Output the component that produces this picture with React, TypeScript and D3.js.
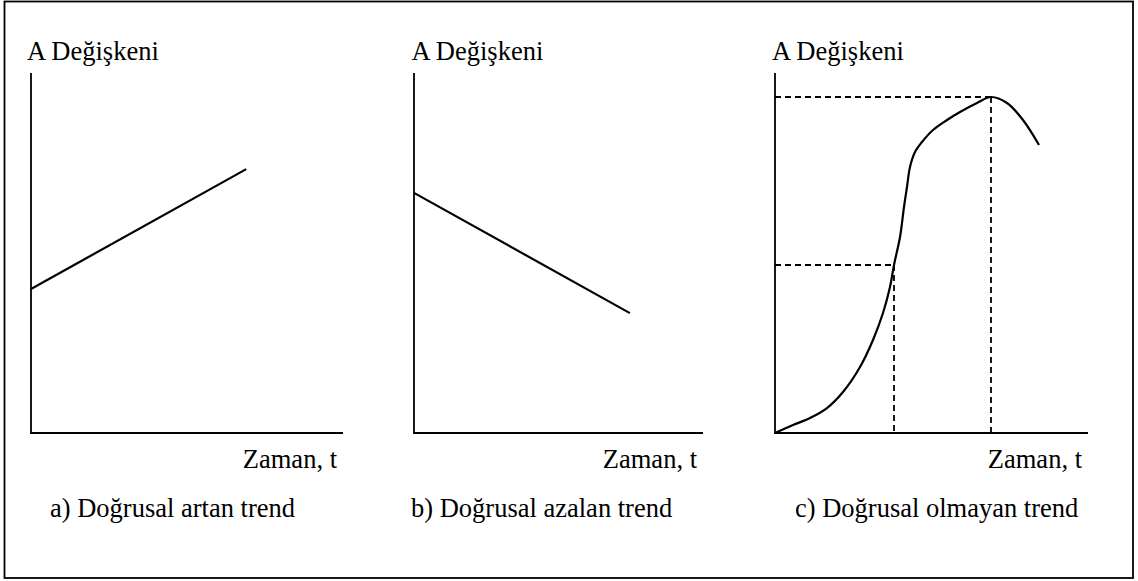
import React from "react";
import * as d3 from "d3";

// ---- data (domain units 0..100 on both axes of every panel) ----
const yAxisLabel = "A Değişkeni";
const xAxisLabel = "Zaman, t";
const captions = ["a) Doğrusal artan trend", "b) Doğrusal azalan trend", "c) Doğrusal olmayan trend"];

const increasingTrend: [number, number][] = [[0, 40], [69, 73.3]];
const decreasingTrend: [number, number][] = [[0, 66.7], [74.7, 33.3]];
const nonlinearTrend: [number, number][] = [
  [0, 0], [5.75, 2.22], [11.18, 4.17], [16.61, 6.94], [21.73, 11.39], [27.16, 18.33],
  [31.31, 25.83], [34.5, 33.33], [36.74, 40.56], [38.02, 46.67], [39.94, 54.44],
  [41.21, 62.78], [42.17, 68.33], [43.13, 73.89], [44.73, 78.06], [46.96, 80.83],
  [50.48, 84.17], [54.95, 86.94], [59.11, 89.17], [64.54, 91.67], [69.01, 93.33],
  [74.12, 91.67], [79.23, 86.94], [84.35, 80],
];
const inflectionPoint: [number, number] = [38.02, 46.67];
const peakPoint: [number, number] = [69.01, 93.33];

const W = 1138;
const H = 581;
const FONT = "'Times New Roman', 'Liberation Serif', serif";

const panels = [
  { x0: 31, x1: 343, labelX: 27, zamanX: 337, capX: 50, data: increasingTrend, dashed: false },
  { x0: 414, x1: 703, labelX: 411.5, zamanX: 697, capX: 411, data: decreasingTrend, dashed: false },
  { x0: 775, x1: 1088, labelX: 772, zamanX: 1082, capX: 795, data: nonlinearTrend, dashed: true },
];

const yTop = 73;
const yBottom = 433;

export default function App() {
  return (
    <div style={{ position: "absolute", left: 0, top: 0 }}>
      <svg width={W} height={H} style={{ display: "block", background: "#fff" }}>
        <rect x={4.5} y={1.5} width={1128.5} height={576.5} fill="none" stroke="#000" strokeWidth={1.8} />
        {panels.map((p, i) => {
          const x = d3.scaleLinear().domain([0, 100]).range([p.x0, p.x1]);
          const y = d3.scaleLinear().domain([0, 100]).range([yBottom, yTop]);
          const line = d3
            .line<[number, number]>()
            .x((d) => x(d[0]))
            .y((d) => y(d[1]))
            .curve(p.dashed ? d3.curveCatmullRom.alpha(0.5) : d3.curveLinear);
          return (
            <g key={i}>
              <text x={p.labelX} y={60} fontFamily={FONT} fontSize={26.5} fill="#000">
                {yAxisLabel}
              </text>
              {p.dashed && (
                <g stroke="#000" strokeWidth={1.8} strokeDasharray="6,4" fill="none">
                  <line x1={x(0)} x2={x(peakPoint[0])} y1={y(peakPoint[1])} y2={y(peakPoint[1])} />
                  <line x1={x(peakPoint[0])} x2={x(peakPoint[0])} y1={y(peakPoint[1])} y2={y(0)} />
                  <line x1={x(0)} x2={x(inflectionPoint[0])} y1={y(inflectionPoint[1])} y2={y(inflectionPoint[1])} />
                  <line x1={x(inflectionPoint[0])} x2={x(inflectionPoint[0])} y1={y(inflectionPoint[1])} y2={y(0)} />
                </g>
              )}
              <path
                d={`M${x(0)},${yTop}V${y(0)}H${x(100)}`}
                fill="none"
                stroke="#000"
                strokeWidth={1.8}
              />
              <path d={line(p.data) || ""} fill="none" stroke="#000" strokeWidth={2.2} />
              <text x={p.zamanX} y={468} textAnchor="end" fontFamily={FONT} fontSize={26.5} fill="#000">
                {xAxisLabel}
              </text>
              <text x={p.capX} y={517} fontFamily={FONT} fontSize={26.5} fill="#000">
                {captions[i]}
              </text>
            </g>
          );
        })}
      </svg>
    </div>
  );
}
